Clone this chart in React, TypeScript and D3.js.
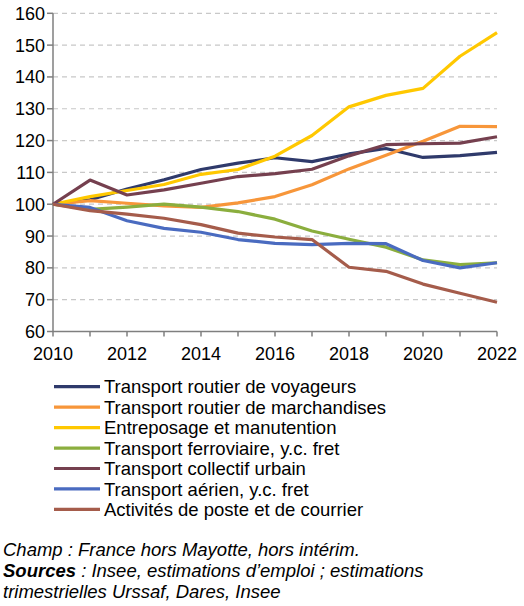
import React from "react";
import * as d3 from "d3";

const years = [2010, 2011, 2012, 2013, 2014, 2015, 2016, 2017, 2018, 2019, 2020, 2021, 2022];
const yTicks = [60, 70, 80, 90, 100, 110, 120, 130, 140, 150, 160];
const xTickLabels = [2010, 2012, 2014, 2016, 2018, 2020, 2022];

const seriesNames = [
  "Transport routier de voyageurs",
  "Transport routier de marchandises",
  "Entreposage et manutention",
  "Transport ferroviaire, y.c. fret",
  "Transport collectif urbain",
  "Transport aérien, y.c. fret",
  "Activités de poste et de courrier",
];
const seriesColors = ["#2F3A6B", "#F7963A", "#FFC800", "#8BAE3E", "#75404F", "#4A6BC0", "#A55C4B"];

const voyageurs = [100, 101.4, 104.8, 107.7, 110.9, 112.9, 114.6, 113.4, 115.8, 117.5, 114.7, 115.3, 116.3];
const marchandises = [100, 101.1, 100.3, 99.5, 99.0, 100.4, 102.4, 106.1, 111.1, 115.4, 119.8, 124.5, 124.4];
const entreposage = [100, 102.4, 104.3, 106.2, 109.4, 110.9, 115.1, 121.6, 130.6, 134.2, 136.4, 146.5, 153.9];
const ferroviaire = [100, 98.4, 99.1, 100.0, 99.1, 97.7, 95.3, 91.6, 89.0, 86.5, 82.5, 81.0, 81.6];
const collectif = [100, 107.6, 102.9, 104.5, 106.6, 108.7, 109.6, 111.0, 115.2, 118.7, 119.0, 119.2, 121.2];
const aerien = [100, 99.0, 94.8, 92.4, 91.2, 88.9, 87.7, 87.3, 87.7, 87.6, 82.3, 80.0, 81.6];
const poste = [100, 98.0, 96.9, 95.6, 93.6, 90.9, 89.7, 88.9, 80.2, 78.9, 74.9, 72.0, 69.2];

const seriesValues = [voyageurs, marchandises, entreposage, ferroviaire, collectif, aerien, poste];

const FONT = "'Liberation Sans', Arial, sans-serif";

export default function App() {
  const width = 524;
  const height = 606;
  const x = d3.scaleLinear().domain([2010, 2022]).range([53, 497]);
  const y = d3.scaleLinear().domain([60, 160]).range([331.5, 13.3]);
  const line = d3
    .line<[number, number]>()
    .x((d) => x(d[0]))
    .y((d) => y(d[1]));

  return (
    <svg
      width={width}
      height={height}
      style={{ position: "absolute", left: 0, top: 0, background: "#fff" }}
      fontFamily={FONT}
    >
      {/* gridlines */}
      {yTicks
        .filter((t) => t !== 60)
        .map((t) => (
          <line
            key={"g" + t}
            x1={x(2010)}
            x2={x(2022)}
            y1={y(t)}
            y2={y(t)}
            stroke="#C8C8C8"
            strokeWidth={1.2}
            strokeDasharray="5,4"
          />
        ))}
      {/* y axis */}
      <line x1={x(2010)} x2={x(2010)} y1={y(160)} y2={y(60)} stroke="#7F7F7F" strokeWidth={1.5} />
      {yTicks.map((t) => (
        <g key={"yt" + t}>
          <line x1={x(2010) - 6} x2={x(2010)} y1={y(t)} y2={y(t)} stroke="#7F7F7F" strokeWidth={1.5} />
          <text x={45} y={y(t) + 6.5} textAnchor="end" fontSize={18} fill="#000">
            {t}
          </text>
        </g>
      ))}
      {/* x axis */}
      <line x1={x(2010)} x2={x(2022)} y1={y(60)} y2={y(60)} stroke="#7F7F7F" strokeWidth={1.5} />
      {years.map((yr) => (
        <line key={"xt" + yr} x1={x(yr)} x2={x(yr)} y1={y(60)} y2={y(60) + 5} stroke="#7F7F7F" strokeWidth={1.5} />
      ))}
      {xTickLabels.map((yr) => (
        <text key={"xl" + yr} x={x(yr)} y={359.5} textAnchor="middle" fontSize={18} fill="#000">
          {yr}
        </text>
      ))}
      {/* series */}
      {seriesValues.map((vals, i) => (
        <path
          key={"s" + i}
          d={line(years.map((yr, j) => [yr, vals[j]] as [number, number])) || ""}
          fill="none"
          stroke={seriesColors[i]}
          strokeWidth={3.2}
          strokeLinejoin="round"
        />
      ))}
      {/* legend */}
      {seriesNames.map((name, i) => {
        const ly = 386.7 + i * 20.45;
        return (
          <g key={"l" + i}>
            <line x1={54} x2={100} y1={ly} y2={ly} stroke={seriesColors[i]} strokeWidth={3.2} />
            <text x={104} y={ly + 6.6} fontSize={18.5} fill="#000">
              {name}
            </text>
          </g>
        );
      })}
      {/* footnotes */}
      <text x={3} y={556} fontSize={18.5} fontStyle="italic" fill="#000">
        Champ : France hors Mayotte, hors intérim.
      </text>
      <text x={3} y={577.3} fontSize={18.5} fontStyle="italic" fill="#000">
        <tspan fontWeight="bold">Sources</tspan>
        <tspan> : Insee, estimations d’emploi ; estimations</tspan>
      </text>
      <text x={3} y={598.3} fontSize={18.5} fontStyle="italic" fill="#000">
        trimestrielles Urssaf, Dares, Insee
      </text>
    </svg>
  );
}
